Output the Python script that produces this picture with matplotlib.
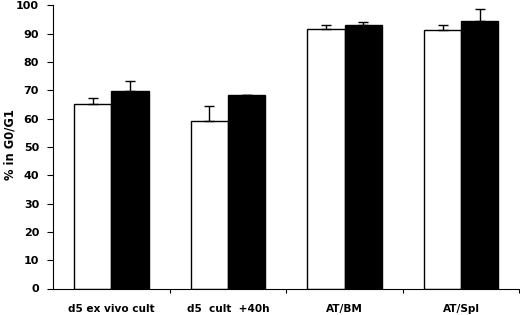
import matplotlib
matplotlib.use("Agg")
import matplotlib.pyplot as plt
import numpy as np

categories = ["d5 ex vivo cult", "d5  cult  +40h", "AT/BM", "AT/Spl"]
white_vals = [65.3, 59.3, 91.6, 91.3]
white_err = [1.8, 5.1, 1.4, 1.8]
black_vals = [69.8, 68.4, 92.9, 94.6]
black_err = [3.6, 0.0, 1.3, 4.0]
yticks = [0, 10, 20, 30, 40, 50, 60, 70, 80, 90, 100]

plt.rcParams['font.family'] = ['DejaVu Sans']

fig = plt.figure(figsize=(5.2, 3.15), dpi=100)
ax = fig.add_axes([53/520, 1 - 288.5/315, 467/520 - 0.001, (288.5 - 5.3)/315])

x = np.arange(len(categories)) + 0.5
w = 0.32
ax.bar(x - w/2, white_vals, w, color='white', edgecolor='black', linewidth=1.0,
       yerr=[np.zeros(4), white_err], error_kw=dict(ecolor='black', elinewidth=1.0, capsize=3.5, capthick=1.0), zorder=2)
ax.bar(x + w/2, black_vals, w, color='black', edgecolor='black', linewidth=1.0,
       yerr=[np.zeros(4), black_err], error_kw=dict(ecolor='black', elinewidth=1.0, capsize=3.5, capthick=1.0), zorder=2)

ax.set_xlim(0, 4)
ax.set_ylim(0, 100)
ax.set_yticks(yticks)
ax.set_yticklabels([str(v) for v in yticks], fontsize=8, fontweight='bold')
ax.set_xticks(x)
ax.set_xticklabels(categories, fontsize=7.6, fontweight='bold')
ax.tick_params(axis='x', which='major', length=0, pad=11)
ax.set_xticks([1, 2, 3, 4], minor=True)
ax.tick_params(axis='x', which='minor', length=3, width=0.8, direction='out')
ax.tick_params(axis='y', length=4, width=0.8, direction='out', pad=6)
ax.spines['top'].set_visible(False)
ax.spines['right'].set_visible(False)
ax.spines['left'].set_linewidth(0.8)
ax.spines['bottom'].set_linewidth(0.8)
fig.text(10/520, 1 - 145/315, "% in G0/G1", fontsize=8.3, fontweight='bold',
         rotation=90, ha='center', va='center')

fig.savefig("out.png", dpi=100)
